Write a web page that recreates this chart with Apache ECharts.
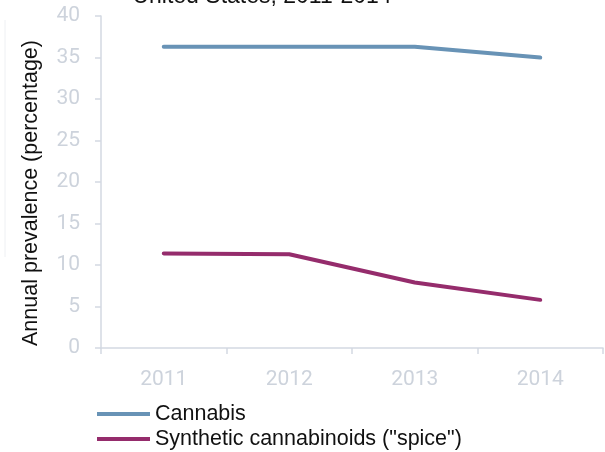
<!DOCTYPE html>
<html><head><meta charset="utf-8">
<script src="https://cdn.jsdelivr.net/npm/echarts@6/dist/echarts.min.js"></script>
<style>html,body{margin:0;padding:0;background:#fff}#c{width:605px;height:452px}</style>
</head><body><div id="c"></div>
<script>
const titleText = 'United States, 2011-2014';
const yAxisName = 'Annual prevalence (percentage)';
const years = ['2011', '2012', '2013', '2014'];
const seriesNames = ['Cannabis', 'Synthetic cannabinoids ("spice")'];
const cannabis = [36.3, 36.3, 36.3, 35.0];
const spice = [11.4, 11.3, 7.9, 5.8];
const colors = ['#6893b6', '#952c6c'];

const chart = echarts.init(document.getElementById('c'), null, {renderer: 'canvas'});
const axisGray = '#d3d9e2';
const labelGray = '#cdd3dc';
chart.setOption({
  animation: false,
  color: colors,
  title: {
    text: titleText, left: 257, textAlign: 'center', top: -20,
    textStyle: {fontFamily: 'Liberation Sans', fontSize: 23, fontWeight: 'normal', color: '#111'}
  },
  grid: {left: 101, right: 2, top: 16, bottom: 104, containLabel: false},
  legend: {
    orient: 'vertical', left: 97, top: 403, itemGap: 3, padding: 0,
    itemWidth: 53, itemHeight: 4, icon: 'rect',
    textStyle: {fontFamily: 'Liberation Sans', fontSize: 21.5, color: '#111', padding: [0,0,0,0]},
    data: seriesNames
  },
  xAxis: {
    type: 'category', data: years, boundaryGap: true,
    axisLine: {lineStyle: {color: axisGray, width: 1.5}},
    axisTick: {show: true, length: 6, lineStyle: {color: axisGray, width: 1.5}},
    axisLabel: {color: labelGray, fontFamily: 'Roboto', fontSize: 21, margin: 21}
  },
  yAxis: {
    type: 'value', min: 0, max: 40, interval: 5,
    name: yAxisName, nameLocation: 'middle', nameGap: 59, nameRotate: 90,
    nameTextStyle: {fontFamily: 'Liberation Sans', fontSize: 21.5, color: '#111', padding: [0, 22, 0, 0]},
    axisLine: {show: true, lineStyle: {color: axisGray, width: 1.5}},
    axisTick: {show: true, length: 6, lineStyle: {color: axisGray, width: 1.5}},
    splitLine: {show: false},
    axisLabel: {color: labelGray, fontFamily: 'Roboto', fontSize: 21, margin: 21}
  },
  series: [
    {name: seriesNames[0], type: 'line', data: cannabis, symbol: 'none',
     lineStyle: {width: 4, cap: 'round', color: colors[0]}, itemStyle: {color: colors[0]}},
    {name: seriesNames[1], type: 'line', data: spice, symbol: 'none',
     lineStyle: {width: 4, cap: 'round', color: colors[1]}, itemStyle: {color: colors[1]}}
  ],
  graphic: [{type: 'line', shape: {x1: 5, y1: 20, x2: 5, y2: 257}, style: {stroke: '#eef0f3', lineWidth: 1}}]
});
</script></body></html>
